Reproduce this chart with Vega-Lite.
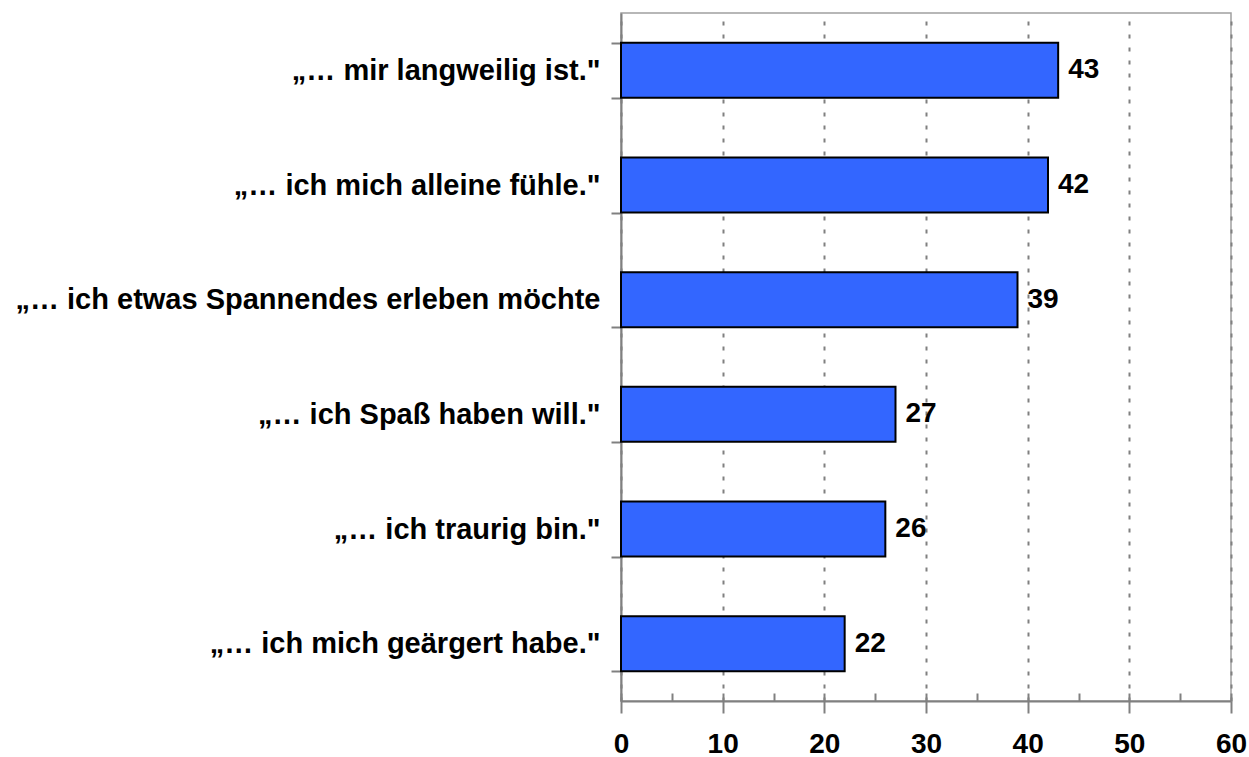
{
  "$schema": "https://vega.github.io/schema/vega-lite/v6.json",
  "autosize": {"type": "none"},
  "width": 610,
  "height": 688,
  "padding": {"left": 621, "top": 13, "right": 18, "bottom": 56},
  "background": "white",
  "config": {
    "font": "Liberation Sans",
    "view": {"stroke": "#a0a0a0", "strokeWidth": 1.5}
  },
  "data": {
    "values": [
      {"label": "„… mir langweilig ist.\"", "value": 43},
      {"label": "„… ich mich alleine fühle.\"", "value": 42},
      {"label": "„… ich etwas Spannendes erleben möchte", "value": 39},
      {"label": "„… ich Spaß haben will.\"", "value": 27},
      {"label": "„… ich traurig bin.\"", "value": 26},
      {"label": "„… ich mich geärgert habe.\"", "value": 22}
    ]
  },
  "encoding": {
    "y": {
      "field": "label", "type": "nominal", "sort": null, "title": null,
      "scale": {"paddingInner": 0.52, "paddingOuter": 0.26},
      "axis": {
        "tickBand": "extent", "domainColor": "#808080", "domainWidth": 2,
        "tickColor": "#808080", "tickWidth": 2, "tickSize": 10,
        "labelFontSize": 29, "labelFontWeight": "bold", "labelColor": "black",
        "labelPadding": 11, "labelLimit": 800, "grid": false
      }
    }
  },
  "layer": [
    {
      "mark": {"type": "bar", "color": "#3366FF", "stroke": "black", "strokeWidth": 2},
      "encoding": {
        "x": {
          "field": "value", "type": "quantitative", "title": null,
          "scale": {"domain": [0, 60], "nice": false},
          "axis": {
            "orient": "bottom", "values": [0, 10, 20, 30, 40, 50, 60],
            "domainColor": "#808080", "domainWidth": 2,
            "tickColor": "#808080", "tickWidth": 2, "tickSize": 12,
            "labelFontSize": 28, "labelFontWeight": "bold", "labelColor": "black",
            "labelPadding": 17, "labelFlush": false,
            "grid": true, "gridColor": "#808080", "gridWidth": 2, "gridDash": [4, 9]
          }
        }
      }
    },
    {
      "mark": {"type": "text", "align": "left", "dx": 10, "fontSize": 28, "fontWeight": "bold", "color": "black"},
      "encoding": {
        "x": {
          "field": "value", "type": "quantitative",
          "scale": {"domain": [0, 60], "nice": false},
          "axis": {
            "orient": "bottom", "values": [0, 5, 10, 15, 20, 25, 30, 35, 40, 45, 50, 55, 60],
            "domain": false, "labels": false, "grid": false, "title": null,
            "tickColor": "#808080", "tickWidth": 2, "tickSize": -8
          }
        },
        "text": {"field": "value", "type": "quantitative"}
      }
    }
  ],
  "resolve": {"axis": {"x": "independent"}}
}
